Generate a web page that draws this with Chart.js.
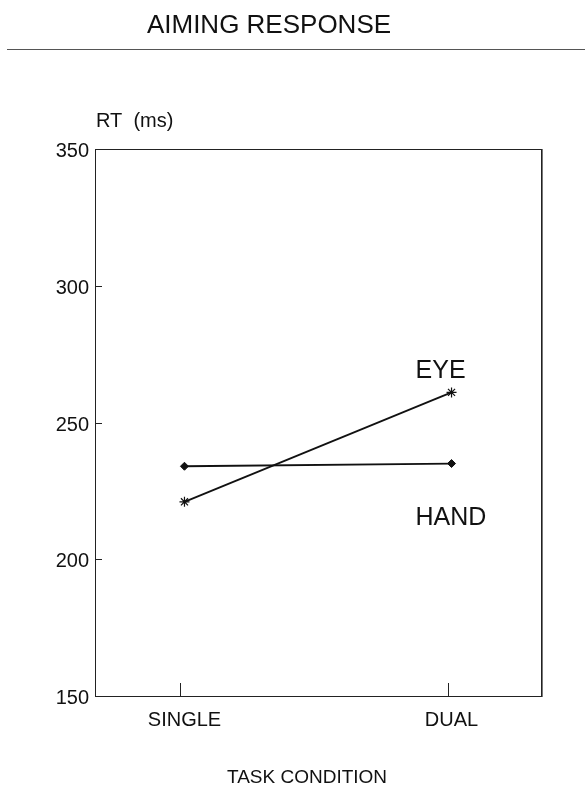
<!DOCTYPE html>
<html>
<head>
<meta charset="utf-8">
<script src="https://cdn.jsdelivr.net/npm/chart.js@4/dist/chart.umd.min.js"></script>
<style>
html,body{margin:0;padding:0;background:#fff;}
canvas{display:block;}
</style>
</head>
<body>
<canvas id="c" width="585" height="788"></canvas>
<script>
const categories = ['SINGLE', 'DUAL'];
const eyeRT = [221, 261];
const handRT = [234, 235];
const yTicks = [150, 200, 250, 300, 350];
const seriesNames = ['EYE', 'HAND'];
const seriesLabelRT = [266.3, 212.5];
const chartTitle = 'AIMING RESPONSE';
const yTitle = 'RT  (ms)';
const xTitle = 'TASK CONDITION';

const FONT = '"Liberation Sans", Arial, Helvetica, sans-serif';
const INK = '#111';

const decor = {
  id: 'decor',
  afterDraw(chart) {
    const ctx = chart.ctx;
    const a = chart.chartArea;
    const xs = chart.scales.x, ys = chart.scales.y;
    ctx.save();
    // frame
    ctx.strokeStyle = '#222';
    ctx.lineWidth = 1;
    ctx.strokeRect(Math.round(a.left) + 0.5, Math.round(a.top) + 0.5,
      Math.round(a.right - a.left), Math.round(a.bottom - a.top));
    ctx.strokeStyle = '#777';
    ctx.beginPath();
    ctx.moveTo(Math.round(a.right) + 1.5, a.top); ctx.lineTo(Math.round(a.right) + 1.5, a.bottom + 1);
    ctx.stroke();
    // y ticks (inward)
    ctx.strokeStyle = '#222';
    ctx.beginPath();
    yTicks.forEach(v => {
      const py = Math.round(ys.getPixelForValue(v)) + 0.5;
      ctx.moveTo(a.left, py); ctx.lineTo(a.left + 7, py);
    });
    // x ticks (inward)
    categories.forEach((c, i) => {
      const px = Math.round(xs.getPixelForValue(i)) - 3.5;
      ctx.moveTo(px, a.bottom); ctx.lineTo(px, a.bottom - 13);
    });
    ctx.stroke();
    // title + rule
    ctx.fillStyle = INK;
    ctx.textAlign = 'center';
    ctx.textBaseline = 'alphabetic';
    ctx.font = '26px ' + FONT;
    ctx.fillText(chartTitle, 269, 33);
    ctx.strokeStyle = '#555';
    ctx.beginPath();
    ctx.moveTo(7, 49.5); ctx.lineTo(585, 49.5);
    ctx.stroke();
    // y axis title
    ctx.textAlign = 'left';
    ctx.font = '20px ' + FONT;
    ctx.fillText(yTitle, a.left + 1, 127);
    // x axis title
    ctx.textAlign = 'center';
    ctx.font = '19px ' + FONT;
    ctx.fillText(xTitle, 307, 783);
    // series labels
    ctx.textAlign = 'left';
    ctx.font = '25px ' + FONT;
    seriesNames.forEach((n, i) => {
      ctx.fillText(n, xs.getPixelForValue(categories.length - 1) - 36, ys.getPixelForValue(seriesLabelRT[i]));
    });
    ctx.restore();
  }
};

new Chart(document.getElementById('c'), {
  type: 'scatter',
  data: {
    datasets: [
      {
        label: seriesNames[0],
        data: eyeRT.map((v, i) => ({ x: i, y: v })),
        showLine: true,
        borderColor: INK,
        borderWidth: 1.8,
        pointStyle: 'star',
        pointRadius: 5,
        pointBorderWidth: 1.2,
        pointBorderColor: INK,
        pointBackgroundColor: INK
      },
      {
        label: seriesNames[1],
        data: handRT.map((v, i) => ({ x: i, y: v })),
        showLine: true,
        borderColor: INK,
        borderWidth: 1.8,
        pointStyle: 'rectRot',
        pointRadius: 4,
        pointBorderWidth: 1,
        pointBorderColor: INK,
        pointBackgroundColor: INK
      }
    ]
  },
  options: {
    responsive: false,
    animation: false,
    devicePixelRatio: 1,
    layout: { padding: { left: 0, top: 149, right: 44, bottom: 0 } },
    plugins: { legend: { display: false }, tooltip: { enabled: false }, title: { display: false } },
    scales: {
      x: {
        type: 'linear',
        min: -0.335,
        max: 1.335,
        grid: { display: false, drawTicks: false },
        border: { display: false },
        afterBuildTicks: s => { s.ticks = categories.map((c, i) => ({ value: i })); },
        afterFit: s => { s.height = 92; },
        ticks: {
          autoSkip: false,
          maxRotation: 0,
          padding: 12,
          color: INK,
          font: { family: FONT, size: 20 },
          callback: v => categories[v] !== undefined ? categories[v] : ''
        }
      },
      y: {
        type: 'linear',
        min: 150,
        max: 350,
        grid: { display: false, drawTicks: false },
        border: { display: false },
        afterBuildTicks: s => { s.ticks = yTicks.map(v => ({ value: v })); },
        afterFit: s => { s.width = 95; },
        ticks: {
          padding: 6,
          labelOffset: 2.5,
          color: INK,
          font: { family: FONT, size: 20 }
        }
      }
    }
  },
  plugins: [decor]
});
</script>
</body>
</html>
